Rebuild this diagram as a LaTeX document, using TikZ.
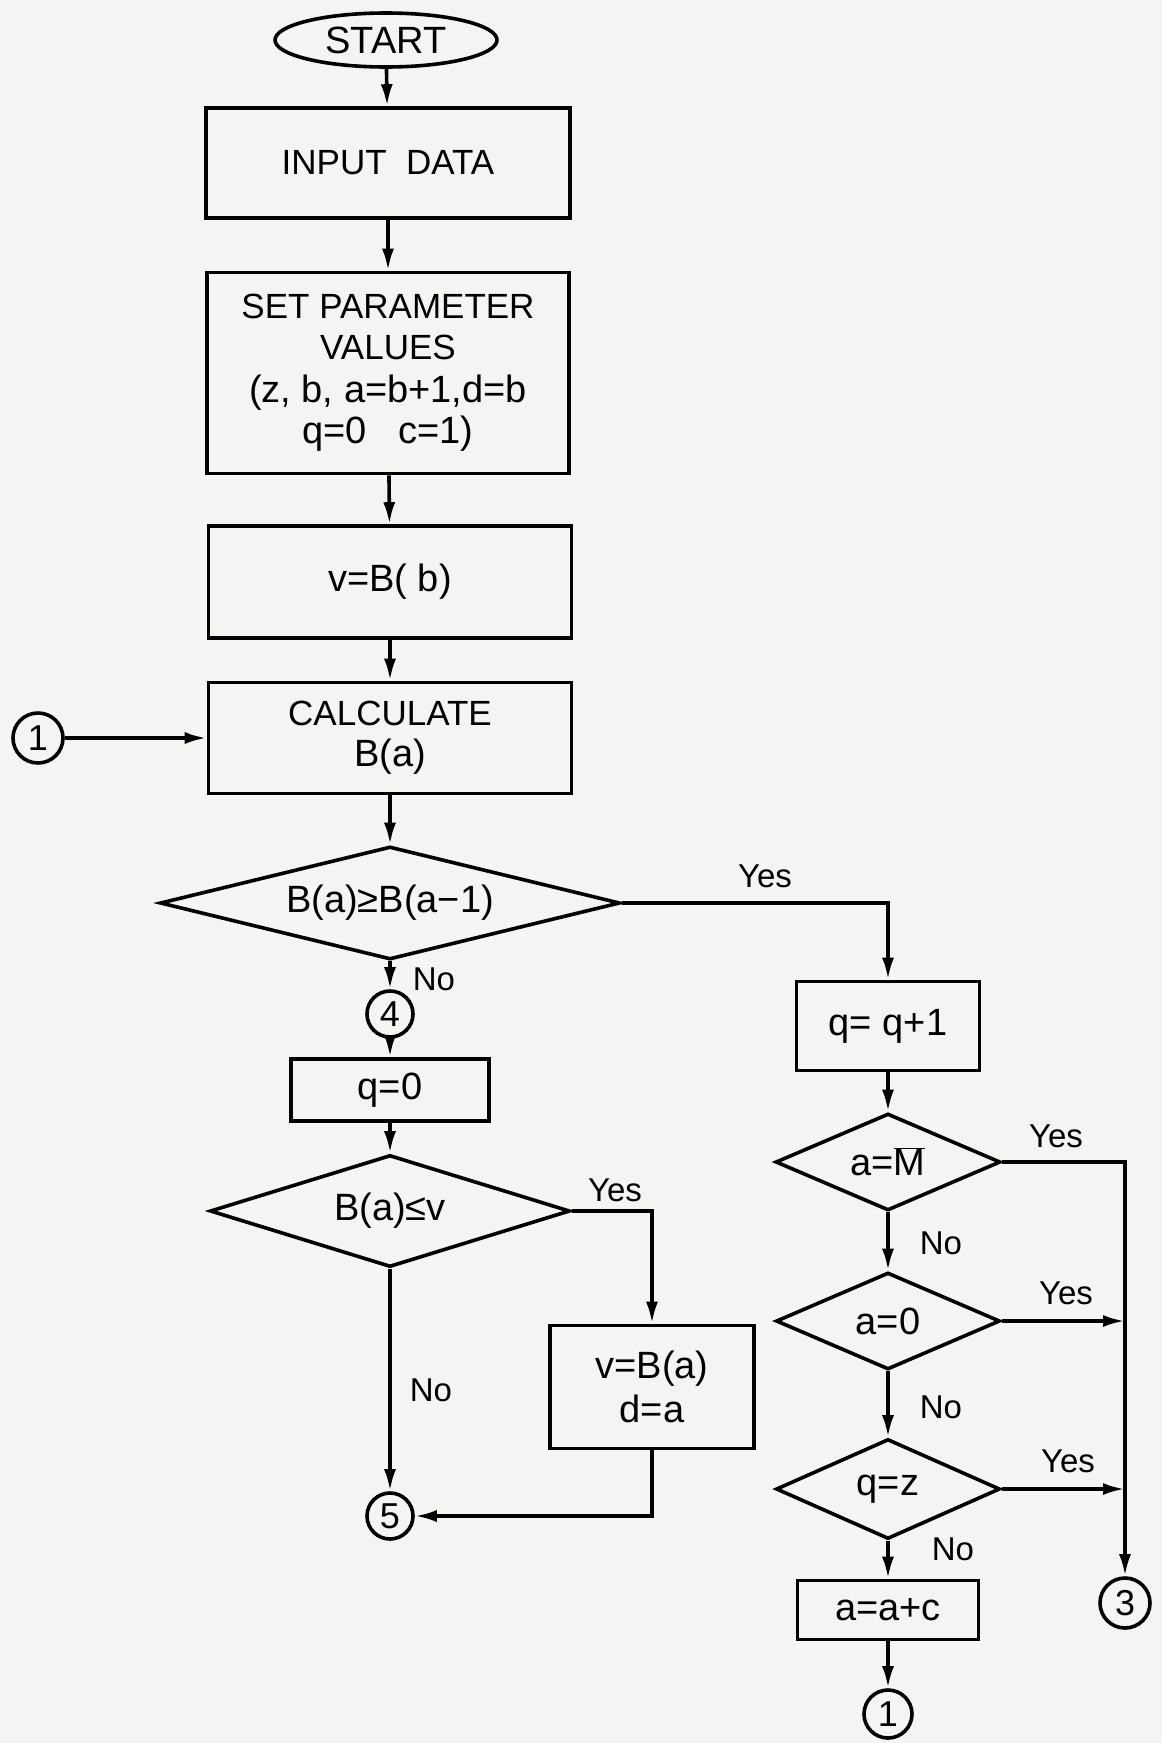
\documentclass[tikz,border=0pt]{standalone}
\usepackage{fontspec}
\setmainfont{Liberation Sans}
\usetikzlibrary{shapes.geometric,arrows.meta}
\definecolor{paper}{RGB}{244,244,242}
\begin{document}
\begin{tikzpicture}[x=1pt,y=-1pt,line width=3.6pt,
  every node/.style={font=\fontsize{35}{41}\selectfont, align=center},
  box/.style={draw, rectangle, inner sep=0pt},
  dec/.style={draw, diamond, inner sep=0pt},
  conn/.style={draw, circle, minimum size=46pt, inner sep=0pt, font=\fontsize{36}{40}\selectfont},
  term/.style={draw, ellipse, inner sep=0pt, font=\fontsize{38}{42}\selectfont},
  lbl/.style={inner sep=0pt, font=\fontsize{33}{38}\selectfont},
  eq/.style={font=\fontsize{38}{44}\selectfont},
  arr/.style={-{Latex[length=22pt,width=12pt]}, line width=3.6pt}]
\fill[paper] (0,0) rectangle (1162,1743);
\useasboundingbox (0,0) rectangle (1162,1743);

% main column
\node[term, minimum width=222pt, minimum height=54pt] (start) at (386,40) {START};
\node[box, minimum width=364pt, minimum height=110pt] (input) at (388,163) {INPUT\ \ DATA};
\node[box, minimum width=362pt, minimum height=201pt] (setp) at (388,373)
  {SET PARAMETER\\VALUES\\[2pt]{\fontsize{38}{44}\selectfont (z, b, a=b+1,d=b}\\{\fontsize{38}{44}\selectfont q=0\ \ \ c=1)}};
\node[box, eq, minimum width=363pt, minimum height=112pt] (vbb) at (390,582) {v=B( b)};
\node[box, minimum width=363pt, minimum height=111pt] (calc) at (390,738) {CALCULATE\\{\fontsize{38}{44}\selectfont B(a)}};
\node[conn, minimum size=50pt] (c1) at (38,738) {1};
\node[dec, eq, aspect=4.07, minimum width=460pt, minimum height=113pt] (d1) at (390,903) {B(a)≥B(a−1)};

% left sub-column
\node[conn] (c4) at (390,1014) {4};
\node[box, eq, minimum width=198pt, minimum height=62pt] (q0) at (390,1090) {q=0};
\node[dec, eq, aspect=3.2, minimum width=360pt, minimum height=112pt] (d2) at (390,1211) {B(a)≤v};
\node[box, eq, minimum width=204pt, minimum height=123pt] (vba) at (652,1387) {v=B(a)\\d=a};
\node[conn] (c5) at (390,1516) {5};

% right column
\node[box, eq, minimum width=183pt, minimum height=89pt] (qinc) at (888,1026) {q=\ q+1};
\node[dec, eq, aspect=2.32, minimum width=225pt, minimum height=97pt] (d3) at (888,1162) {a=$\overline{\hbox{M}}$};
\node[dec, eq, aspect=2.31, minimum width=224pt, minimum height=97pt] (d4) at (888,1321) {a=0};
\node[dec, eq, aspect=2.24, minimum width=224pt, minimum height=100pt] (d5) at (888,1489) {q=z};
\node[box, eq, minimum width=181pt, minimum height=59pt] (aac) at (888,1610) {a=a+c};
\node[conn, minimum size=48pt] (c1b) at (888,1714) {1};
\node[conn, minimum size=50pt] (c3) at (1125,1603) {3};
\coordinate (j4) at (c3.north |- d4.east);
\coordinate (j5) at (c3.north |- d5.east);

% labels
\node[lbl] (yes1) at (765,876) {Yes};
\node[lbl] (no1) at (434,979) {No};
\node[lbl] (yes2) at (615,1190) {Yes};
\node[lbl] (no2) at (431,1390) {No};
\node[lbl] (yes3) at (1056,1136) {Yes};
\node[lbl] (no3) at (941,1243) {No};
\node[lbl] (yes4) at (1066,1293) {Yes};
\node[lbl] (no4) at (941,1407) {No};
\node[lbl] (yes5) at (1068,1461) {Yes};
\node[lbl] (no5) at (953,1549) {No};

% connectors
\draw[arr] (start) -- (input);
\draw[arr] (input) -- (setp);
\draw[arr] (setp) -- (vbb);
\draw[arr] (vbb) -- (calc);
\draw[arr] (c1) -- (calc);
\draw[arr] (calc) -- (d1);
\draw[arr] (d1.east) -| (qinc.north);
\draw[arr] (d1.south) -- (c4.north);
\draw[arr] (c4) -- (q0);
\draw[arr] (q0) -- (d2);
\draw[arr] (d2.south) -- (c5.north);
\draw[arr] (d2.east) -| (vba.north);
\draw[arr] (vba.south) |- (c5.east);
\draw[arr] (qinc) -- (d3);
\draw[arr] (d3) -- (d4);
\draw[arr] (d4) -- (d5);
\draw[arr] (d5) -- (aac);
\draw[arr] (aac) -- (c1b);
\draw[arr] (d3.east) -| (c3.north);
\draw[arr] (d4.east) -- (j4);
\draw[arr] (d5.east) -- (j5);
\end{tikzpicture}
\end{document}
